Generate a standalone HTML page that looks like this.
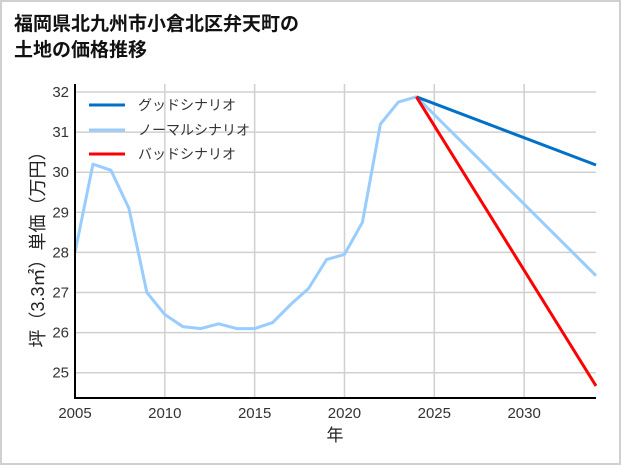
<!DOCTYPE html>
<html><head><meta charset="utf-8"><style>
body{margin:0;background:#fff;}
#wrap{position:relative;width:617px;height:461px;border:2px solid #d0d0d0;background:#fff;overflow:hidden;}
text{font-family:"Liberation Sans","Noto Sans CJK JP",sans-serif;}
</style></head><body>
<div id="wrap">
<svg id="chart" width="621" height="465" style="position:absolute;left:-2px;top:-2px">
<text x="14" y="30" font-size="19" font-weight="bold" fill="#111">福岡県北九州市小倉北区弁天町の</text>
<text x="14" y="56" font-size="19" font-weight="bold" fill="#111">土地の価格推移</text>
<g id="grid"></g><g id="series"></g><g id="axes"></g>
<g>
<line x1="89" y1="105" x2="125" y2="105" stroke="#0070c8" stroke-width="3"/>
<text x="138" y="110" font-size="14" fill="#333">グッドシナリオ</text>
<line x1="89" y1="130" x2="125" y2="130" stroke="#99ccff" stroke-width="3"/>
<text x="138" y="135" font-size="14" fill="#333">ノーマルシナリオ</text>
<line x1="89" y1="154" x2="125" y2="154" stroke="#ff0000" stroke-width="3"/>
<text x="138" y="159" font-size="14" fill="#333">バッドシナリオ</text>
</g>
<text x="335" y="441" font-size="17" fill="#222" text-anchor="middle">年</text>
<text transform="translate(44,245) rotate(-90)" font-size="18" fill="#222" text-anchor="middle">坪（3.3㎡）単価（万円）</text>
</svg></div>
<script>
const years=[2005,2006,2007,2008,2009,2010,2011,2012,2013,2014,2015,2016,2017,2018,2019,2020,2021,2022,2023,2024];
const history=[28.0,30.2,30.05,29.1,27.0,26.45,26.15,26.1,26.22,26.1,26.1,26.25,26.7,27.1,27.82,27.95,28.75,31.2,31.75,31.88];
const forecastYears=[2024,2034];
const goodVals=[31.88,30.18];
const normalVals=[31.88,27.42];
const badVals=[31.88,24.67];
const xTicks=[2005,2010,2015,2020,2025,2030];
const yTicks=[25,26,27,28,29,30,31,32];
const X0=75,X1=596,Y0=398,Y1=84;
const x=v=>X0+(v-2005)*(X1-X0)/(2034-2005);
const y=v=>372.7-(v-25)*(372.7-92)/7;
const NS="http://www.w3.org/2000/svg";
function mk(tag,attrs,parent){const e=document.createElementNS(NS,tag);for(const k in attrs)e.setAttribute(k,attrs[k]);document.getElementById(parent).appendChild(e);return e;}
xTicks.forEach(t=>{
 const l=mk('line',{x1:x(t),x2:x(t),y1:Y1,y2:Y0,stroke:'#d0d0d0','stroke-width':1.5},'grid');
 
 
 const tx=mk('text',{x:x(t),y:418,'font-size':15,fill:'#333','text-anchor':'middle'},'axes');tx.textContent=t;
 
 
});
yTicks.forEach(t=>{
 const l=mk('line',{x1:X0,x2:X1,y1:y(t),y2:y(t),stroke:'#d0d0d0','stroke-width':1.5},'grid');
 
 
 const tx=mk('text',{x:69,y:y(t)+5,'font-size':15,fill:'#333','text-anchor':'end'},'axes');tx.textContent=t;
 
 
});
const ax=mk('path',{d:`M${X0} ${Y1}V${Y0}H${X1}`,fill:'none',stroke:'#000','stroke-width':2},'axes');


function line(xs,vs,color,name){
 const d=xs.map((v,i)=>(i?'L':'M')+x(v)+' '+y(vs[i])).join('');
 const p=mk('path',{d,fill:'none',stroke:color,'stroke-width':3,'stroke-linejoin':'round'},'series');
 
 
}
line(years,history,'#99ccff','history-line');
line(forecastYears,normalVals,'#99ccff','normal-scenario-line');
line(forecastYears,goodVals,'#0070c8','good-scenario-line');
line(forecastYears,badVals,'#ff0000','bad-scenario-line');
</script>
</body></html>
